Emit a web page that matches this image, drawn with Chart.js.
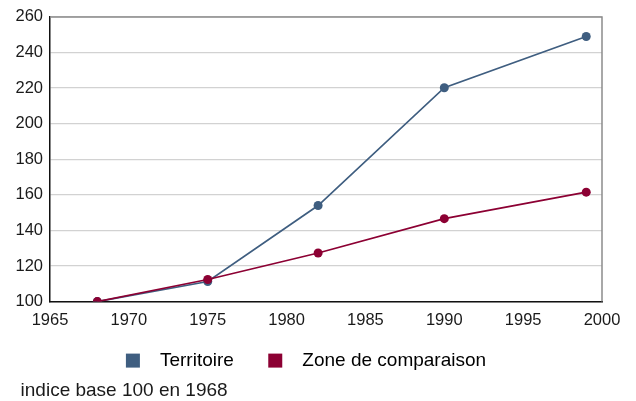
<!DOCTYPE html>
<html>
<head>
<meta charset="utf-8">
<script src="https://cdn.jsdelivr.net/npm/chart.js@4/dist/chart.umd.min.js"></script>
<style>
  html, body { margin: 0; padding: 0; background: #fff; }
  #wrap { width: 636px; height: 401px; }
</style>
</head>
<body>
<div id="wrap"><canvas id="chart"></canvas></div>
<script>
// data
var years = [1968, 1975, 1982, 1990, 1999];
var territoire = [100, 111.3, 154, 220.2, 249];
var zone = [100, 112.4, 127.3, 146.6, 161.5];
var seriesNames = ['Territoire', 'Zone de comparaison'];
var xTicks = [1965, 1970, 1975, 1980, 1985, 1990, 1995, 2000];
var yTicks = [100, 120, 140, 160, 180, 200, 220, 240, 260];
var caption = 'indice base 100 en 1968';

var blue = '#3f5e80';
var red = '#8c0033';
var font = 'Liberation Sans, Arial, sans-serif';

function pts(ys) {
    return years.map(function (y, i) { return {x: y, y: ys[i]}; });
}

// gray frame on top and right of the plot area
var frame = {
    id: 'frame',
    beforeDatasetsDraw: function (chart) {
        var a = chart.chartArea, ctx = chart.ctx;
        ctx.save();
        ctx.strokeStyle = '#8c8c8c';
        ctx.lineWidth = 1.5;
        ctx.beginPath();
        ctx.moveTo(a.left, a.top);
        ctx.lineTo(a.right, a.top);
        ctx.lineTo(a.right, a.bottom);
        ctx.stroke();
        ctx.restore();
    }
};

new Chart('chart', {
    type: 'line',
    data: {
        datasets: [{
            label: seriesNames[0],
            data: pts(territoire),
            borderColor: blue,
            backgroundColor: blue,
            borderWidth: 1.7,
            pointRadius: 4.5,
            pointBorderWidth: 0,
            order: 1
        }, {
            label: seriesNames[1],
            data: pts(zone),
            borderColor: red,
            backgroundColor: red,
            borderWidth: 1.7,
            pointRadius: 4.5,
            pointBorderWidth: 0,
            order: 0
        }]
    },
    options: {
        responsive: true,
        maintainAspectRatio: false,
        animation: false,
        layout: {padding: {left: 10, right: 34, top: 16, bottom: 0}},
        scales: {
            x: {
                type: 'linear',
                min: xTicks[0],
                max: xTicks[xTicks.length - 1],
                afterBuildTicks: function (s) { s.ticks = xTicks.map(function (v) { return {value: v}; }); },
                afterFit: function (s) { s.height = 41.5; },
                grid: {display: false, drawTicks: false},
                border: {color: '#111', width: 1.5},
                ticks: {
                    color: '#1a1a1a',
                    padding: 9,
                    maxRotation: 0,
                    font: {family: font, size: 16.5},
                    callback: function (v) { return String(v); }
                }
            },
            y: {
                min: yTicks[0],
                max: yTicks[yTicks.length - 1],
                afterBuildTicks: function (s) { s.ticks = yTicks.map(function (v) { return {value: v}; }); },
                afterFit: function (s) { s.width = 40; },
                grid: {color: '#d2d2d2', lineWidth: 1.2, drawTicks: false},
                border: {color: '#111', width: 1.5},
                ticks: {
                    color: '#1a1a1a',
                    padding: 7,
                    font: {family: font, size: 16.5},
                    callback: function (v) { return String(v); }
                }
            }
        },
        plugins: {
            legend: {
                position: 'bottom',
                labels: {
                    boxWidth: 14,
                    boxHeight: 14,
                    padding: 8,
                    color: '#1a1a1a',
                    font: {family: font, size: 19},
                    generateLabels: function (chart) {
                        return chart.data.datasets.map(function (ds, i) {
                            return {
                                text: '  ' + ds.label + (i === 0 ? '     ' : ''),
                                fillStyle: ds.backgroundColor,
                                strokeStyle: ds.backgroundColor,
                                lineWidth: 0,
                                hidden: false,
                                datasetIndex: i
                            };
                        });
                    }
                }
            },
            title: {
                display: true,
                position: 'bottom',
                align: 'start',
                text: '  ' + caption,
                color: '#1a1a1a',
                padding: {top: 0, bottom: 0},
                font: {family: font, size: 19, weight: 'normal', lineHeight: 1.1}
            },
            tooltip: {enabled: false}
        }
    },
    plugins: [frame]
});
</script>
</body>
</html>
